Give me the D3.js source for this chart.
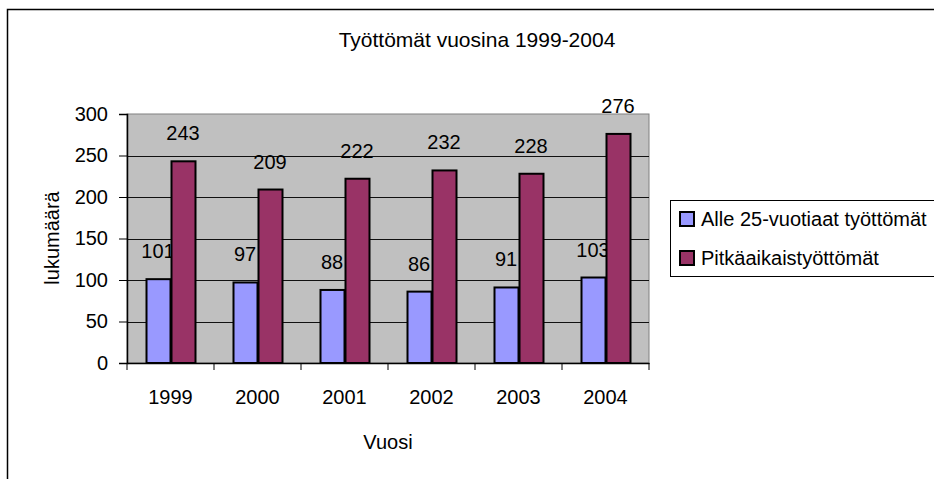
<!DOCTYPE html>
<html>
<head>
<meta charset="utf-8">
<script src="https://cdn.jsdelivr.net/npm/d3@7"></script>
<style>
  body { margin: 0; background: #fff; }
  svg text { font-family: "Liberation Sans", Arial, sans-serif; fill: #000; }
</style>
</head>
<body>
<div id="chart"></div>
<script>
const years = ["1999", "2000", "2001", "2002", "2003", "2004"]
const alle25 = [101, 97, 88, 86, 91, 103]
const pitka = [243, 209, 222, 232, 228, 276]
const seriesNames = ["Alle 25-vuotiaat työttömät", "Pitkäaikaistyöttömät"]
const yTicks = [0, 50, 100, 150, 200, 250, 300]

const chart = function (id) {
    const width = 934
    const height = 479
    const plot = {left: 127, right: 649, top: 114, bottom: 363}
    const colors = ["#9999ff", "#993366"]

    const svg = d3.select("#" + id)
        .append("svg")
        .attr("width", width)
        .attr("height", height)

    const series = [alle25, pitka]

    const x0 = d3.scaleBand().domain(years).range([plot.left, plot.right])
    const x1 = d3.scaleBand().domain([0, 1]).range([0, 50])
    const pad = (x0.bandwidth() - 50) / 2
    const y = d3.scaleLinear().domain([0, 300]).range([plot.bottom, plot.top])

    // outer frame
    svg.append("rect")
        .attr("x", 7.5).attr("y", 9.5)
        .attr("width", width + 20).attr("height", height + 20)
        .attr("fill", "#fff")
        .attr("stroke", "#000")
        .attr("stroke-width", 1.5)

    svg.append("text")
        .attr("x", 477).attr("y", 47)
        .attr("text-anchor", "middle")
        .style("font-size", "21px")
        .text("Työttömät vuosina 1999-2004")

    // plot area
    svg.append("rect")
        .attr("x", plot.left).attr("y", plot.top)
        .attr("width", plot.right - plot.left)
        .attr("height", plot.bottom - plot.top)
        .attr("fill", "#c0c0c0")
        .attr("stroke", "#808080")
        .attr("stroke-width", 1)

    svg.append("g")
        .selectAll("line")
        .data(yTicks.slice(1, -1))
        .join("line")
        .attr("x1", plot.left).attr("x2", plot.right)
        .attr("y1", d => Math.round(y(d)) + 0.5)
        .attr("y2", d => Math.round(y(d)) + 0.5)
        .attr("stroke", "#111")
        .attr("stroke-width", 1)

    // value labels (drawn under the bars, like in the original)
    const groups = years.map((yr, i) => series.map((s, k) => ({yr, k, v: s[i]}))).flat()

    svg.append("g")
        .selectAll("text")
        .data(groups)
        .join("text")
        .attr("x", d => x0(d.yr) + pad + x1(d.k) + x1.bandwidth() / 2)
        .attr("y", d => y(d.v) - 21)
        .attr("text-anchor", "middle")
        .style("font-size", "20px")
        .text(d => d.v)

    svg.append("g")
        .selectAll("rect")
        .data(groups)
        .join("rect")
        .attr("x", d => x0(d.yr) + pad + x1(d.k) + 1)
        .attr("y", d => y(d.v))
        .attr("width", x1.bandwidth() - 1)
        .attr("height", d => y(0) - y(d.v))
        .attr("fill", d => colors[d.k])
        .attr("stroke", "#000")
        .attr("stroke-width", 2)

    // axes
    const yAxis = d3.axisLeft(y).tickValues(yTicks).tickSize(8).tickPadding(11)
    svg.append("g")
        .attr("transform", `translate(${plot.left},0)`)
        .call(yAxis)
        .call(g => g.select(".domain").attr("stroke-width", 1.5))
        .call(g => g.selectAll("text").style("font-size", "20px").attr("font-family", null))

    const xAxis = d3.axisBottom(x0).tickSize(7).tickSizeOuter(0).tickPadding(20)
    svg.append("g")
        .attr("transform", `translate(0,${plot.bottom})`)
        .call(xAxis)
        .call(g => g.select(".domain").attr("stroke-width", 1.5))
        .call(g => g.selectAll(".tick line").attr("transform", `translate(${-x0.bandwidth() / 2},0)`))
        .call(g => g.selectAll("text").style("font-size", "20px").attr("font-family", null))

    svg.append("line")
        .attr("x1", plot.right).attr("x2", plot.right)
        .attr("y1", plot.bottom).attr("y2", plot.bottom + 7)
        .attr("stroke", "#000")

    svg.append("text")
        .attr("transform", "translate(59,238) rotate(-90)")
        .attr("text-anchor", "middle")
        .style("font-size", "20px")
        .text("lukumäärä")

    svg.append("text")
        .attr("x", (plot.left + plot.right) / 2).attr("y", 449)
        .attr("text-anchor", "middle")
        .style("font-size", "20px")
        .text("Vuosi")

    // legend
    const legend = svg.append("g")
    legend.append("rect")
        .attr("x", 670.5).attr("y", 200.5)
        .attr("width", 300).attr("height", 76)
        .attr("fill", "#fff")
        .attr("stroke", "#000")

    const items = legend.selectAll("g.item")
        .data(seriesNames)
        .join("g")
        .attr("class", "item")
        .attr("transform", (d, i) => `translate(680,${212 + i * 39})`)

    items.append("rect")
        .attr("width", 14).attr("height", 14)
        .attr("fill", (d, i) => colors[i])
        .attr("stroke", "#000")
        .attr("stroke-width", 2)

    items.append("text")
        .attr("x", 21).attr("y", 14)
        .style("font-size", "20px")
        .text(d => d)
}

chart("chart")
</script>
</body>
</html>
